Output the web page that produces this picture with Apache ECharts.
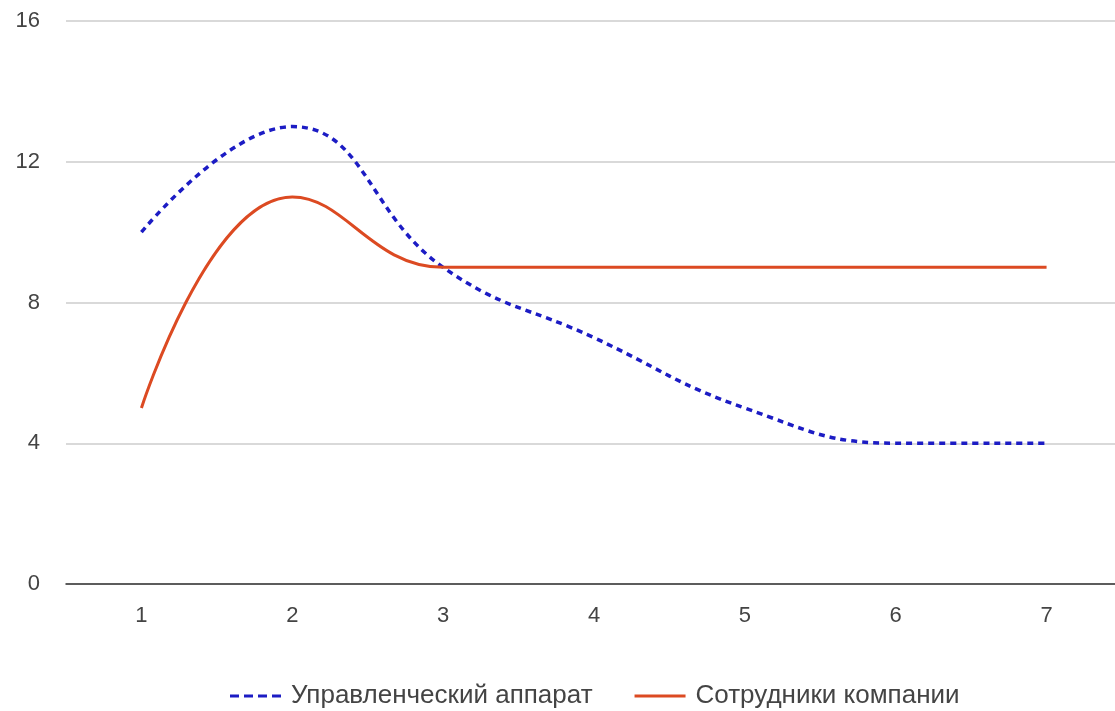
<!DOCTYPE html>
<html>
<head>
<meta charset="utf-8">
<script src="https://cdn.jsdelivr.net/npm/echarts@6/dist/echarts.min.js"></script>
<style>
  html, body { margin: 0; padding: 0; background: #fff; }
  #chart { width: 1115px; height: 711px; }
</style>
</head>
<body>
<div id="chart"></div>
<script>
const categories = ['1', '2', '3', '4', '5', '6', '7'];
const managementValues = [10, 13, 9, 7, 5, 4, 4];
const staffValues = [5, 11, 9, 9, 9, 9, 9];
const managementName = 'Управленческий аппарат';
const staffName = 'Сотрудники компании';

const FONT = 'Liberation Sans, Arial, sans-serif';
const BLUE = '#1c1cc4';
const RED = '#dc4a22';

// Legend keys: four short dashes for the management line, a solid bar for staff
const dashedKey = 'path://M0,0h9v3h-9z M14,0h9v3h-9z M28,0h9v3h-9z M42,0h9v3h-9z';
const solidKey = 'path://M0,0h51v3h-51z';

const chart = echarts.init(document.getElementById('chart'));
chart.setOption({
  backgroundColor: '#ffffff',
  animation: false,
  textStyle: { fontFamily: FONT },
  grid: { left: 66, top: 21, bottom: 127, right: -7, containLabel: false, outerBoundsMode: 'none' },
  legend: {
    top: 678,
    left: 225,
    itemWidth: 51,
    itemHeight: 3,
    itemGap: 42,
    textStyle: { fontSize: 26, color: '#444444', fontFamily: FONT, padding: [0, 0, 0, 5] },
    data: [
      { name: managementName, icon: dashedKey },
      { name: staffName, icon: solidKey }
    ]
  },
  xAxis: {
    type: 'category',
    data: categories,
    boundaryGap: true,
    axisLine: { lineStyle: { color: '#333333', width: 1.5 } },
    axisTick: { show: false },
    axisLabel: { fontSize: 22, color: '#444444', margin: 21 },
    splitLine: { show: false }
  },
  yAxis: {
    type: 'value',
    min: 0,
    max: 16,
    interval: 4,
    axisLine: { show: false },
    axisTick: { show: false },
    axisLabel: { fontSize: 22, color: '#444444', margin: 26 },
    splitLine: { lineStyle: { color: '#cccccc', width: 1.5 } }
  },
  series: [
    {
      name: managementName,
      type: 'line',
      data: managementValues,
      smooth: 0.45,
      symbol: 'none',
      color: BLUE,
      lineStyle: { color: BLUE, width: 3.5, type: [6, 5] }
    },
    {
      name: staffName,
      type: 'line',
      data: staffValues,
      smooth: 0.45,
      symbol: 'none',
      color: RED,
      lineStyle: { color: RED, width: 3 }
    }
  ]
});
</script>
</body>
</html>
